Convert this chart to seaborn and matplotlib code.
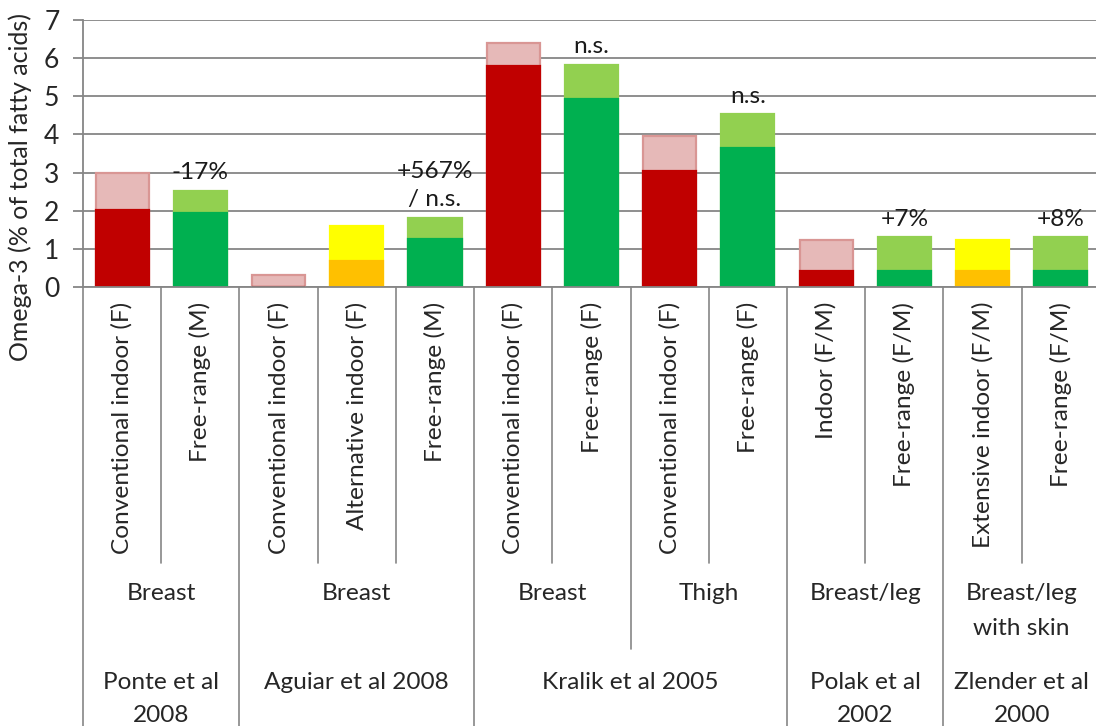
import matplotlib
matplotlib.use("Agg")
import matplotlib.pyplot as plt
import pandas as pd
import seaborn as sns

# bars, left to right
treatments = ["Conventional indoor (F)", "Free-range (M)",
              "Conventional indoor (F)", "Alternative indoor (F)", "Free-range (M)",
              "Conventional indoor (F)", "Free-range (F)",
              "Conventional indoor (F)", "Free-range (F)",
              "Indoor (F/M)", "Free-range (F/M)",
              "Extensive indoor (F/M)", "Free-range (F/M)"]
systems = ["conv", "free", "conv", "alt", "free", "conv", "free",
           "conv", "free", "conv", "free", "alt", "free"]
low_values = [2.03, 1.93, 0.0, 0.68, 1.25, 5.79, 4.92, 3.04, 3.65, 0.41, 0.41, 0.41, 0.41]
high_values = [2.98, 2.52, 0.32, 1.60, 1.81, 6.41, 5.82, 3.97, 4.53, 1.23, 1.30, 1.24, 1.30]

# second and third level of the category axis (first / last bar index)
tissues = ["Breast", "Breast", "Breast", "Thigh", "Breast/leg", "Breast/leg\nwith skin"]
tissue_spans = [(0, 1), (2, 4), (5, 6), (7, 8), (9, 10), (11, 12)]
studies = ["Ponte et al\n2008", "Aguiar et al 2008", "Kralik et al 2005",
           "Polak et al\n2002", "Zlender et al\n2000"]
study_spans = [(0, 1), (2, 4), (5, 8), (9, 10), (11, 12)]

# change / significance notes above bars
note_bars = [1, 4, 6, 8, 10, 12]
note_texts = ["-17%", "+567%\n/ n.s.", "n.s.", "n.s.", "+7%", "+8%"]

dark = {"conv": "#C00000", "free": "#00B050", "alt": "#FFC000"}
light = {"conv": "#E6B9B8", "free": "#92D050", "alt": "#FFFF00"}
edge_light = {"conv": "#D99694", "free": "#92D050", "alt": "#FFFF00"}
grid_col = "#868686"

sns.set_style("white")
plt.rcParams["font.family"] = ["Lato", "DejaVu Sans"]
fs = 17.6

bar_ids = [f"b{i}" for i in range(len(treatments))]
df = pd.DataFrame({"bar": bar_ids, "low": low_values, "high": high_values, "system": systems})

fig = plt.figure(figsize=(10.96, 7.26), dpi=100)
ax = fig.add_axes([83 / 1096, (726 - 287) / 726, 1 - 83 / 1096, 267 / 726])

# full range (light) first, then the lower value (dark) on top
sns.barplot(data=df, x="bar", y="high", hue="bar", order=bar_ids, hue_order=bar_ids,
            palette=[light[s] for s in systems], saturation=1, width=0.68,
            legend=False, linewidth=1.6, ax=ax)
n_top = len(ax.patches)
for p, s in zip(ax.patches, systems):
    p.set_edgecolor(edge_light[s])
sns.barplot(data=df, x="bar", y="low", hue="bar", order=bar_ids, hue_order=bar_ids,
            palette=[dark[s] for s in systems], saturation=1, width=0.68,
            legend=False, linewidth=1.6, ax=ax)
for p, s in zip(ax.patches[n_top:], systems):
    p.set_edgecolor(dark[s])

ax.set_ylim(0, 7)
ax.set_xlim(-0.5, 12.45)
ax.set_yticks(range(8))
ax.yaxis.grid(True, color=grid_col, linewidth=1.3)
ax.set_axisbelow(True)
for side in ["top", "right"]:
    ax.spines[side].set_visible(False)
for side in ["left", "bottom"]:
    ax.spines[side].set_color(grid_col)
    ax.spines[side].set_linewidth(1.3)
ax.tick_params(axis="y", length=7, width=1.3, color=grid_col, labelsize=fs + 1.5, pad=10,
               left=True)
ax.set_xticks([])
ax.set_xlabel("")
ax.set_ylabel("Omega-3 (% of total fatty acids)", fontsize=fs + 0.4)
ax.yaxis.set_label_coords(-0.050, 0.375)

for i, txt in zip(note_bars, note_texts):
    ax.text(i, high_values[i] + 0.2, txt, ha="center", va="bottom", fontsize=fs,
            linespacing=1.45, color="#1a1a1a")

# multi-level category axis
tr = ax.get_xaxis_transform()


def ax_y(py):
    return (287 - py) / 267


for i, name in enumerate(treatments):
    ax.text(i, ax_y(302), name, rotation=90, ha="center", va="top", fontsize=fs,
            transform=tr, clip_on=False)
for (a, b), name in zip(tissue_spans, tissues):
    ax.text((a + b) / 2, ax_y(583), name, ha="center", va="top", fontsize=fs,
            transform=tr, linespacing=1.85, clip_on=False)
for (a, b), name in zip(study_spans, studies):
    ax.text((a + b) / 2, ax_y(672), name, ha="center", va="top", fontsize=fs,
            transform=tr, linespacing=1.7, clip_on=False)

study_edges = {a - 0.5 for a, b in study_spans} | {b + 0.5 for a, b in study_spans}
tissue_edges = {a - 0.5 for a, b in tissue_spans} | {b + 0.5 for a, b in tissue_spans}
for k in range(len(treatments) + 1):
    xb = k - 0.5
    if xb in study_edges:
        bottom = ax_y(726)
    elif xb in tissue_edges:
        bottom = ax_y(649)
    else:
        bottom = ax_y(563)
    ax.plot([xb, xb], [0, bottom], color=grid_col, linewidth=1.2, transform=tr,
            clip_on=False)

fig.savefig("out.png", dpi=100)
